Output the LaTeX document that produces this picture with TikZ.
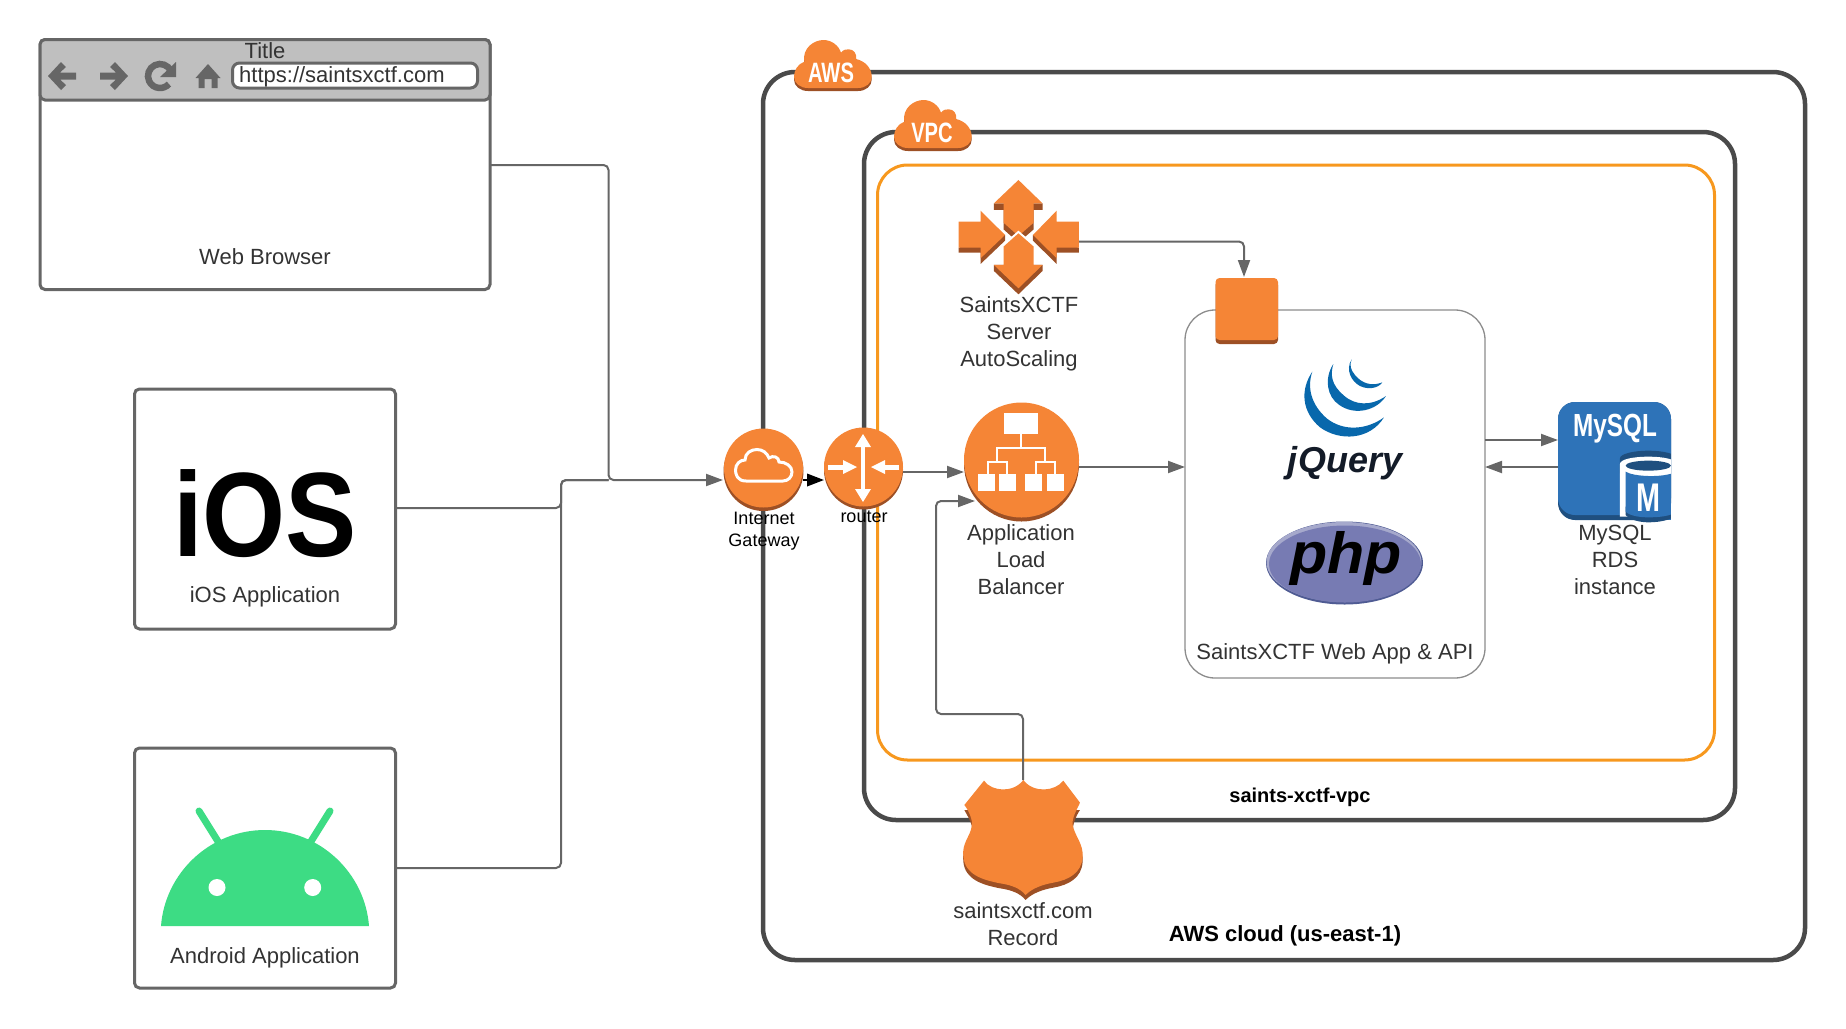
\documentclass[tikz,border=0pt]{standalone}
\usepackage{fontspec}
\usepackage{graphicx}
\setmainfont{Liberation Sans}
\usetikzlibrary{arrows.meta}
\definecolor{awsor}{HTML}{F58536}
\definecolor{awssh}{HTML}{9D5025}
\definecolor{frame}{HTML}{4A4A4A}
\definecolor{edge}{HTML}{666666}
\definecolor{txt}{HTML}{333333}
\definecolor{vpcor}{HTML}{F7981E}
\definecolor{rdsb}{HTML}{2E73B8}
\definecolor{rdsd}{HTML}{1F4F7F}
\definecolor{droid}{HTML}{3DDC84}
\definecolor{jqb}{HTML}{0868AC}
\definecolor{jqd}{HTML}{131B28}
\definecolor{phpb}{HTML}{777BB3}
\definecolor{phpd}{HTML}{4F5B93}
\definecolor{phpl}{HTML}{A6A9CC}
\newcommand{\cloudshape}{(10.3,21.7) .. controls (8,8) and (20,0) .. (29.5,0) .. controls (38,0) and (45,6) .. (47,12.7) .. controls (49,9.5) and (52,9.3) .. (54.8,9.3) .. controls (60,9.3) and (63,14) .. (62,19) .. controls (71,21) and (77.7,28) .. (77.7,36.7) .. controls (77.7,43) and (72,48) .. (64,48) -- (14,48) .. controls (6,48) and (0,43) .. (0,36.7) .. controls (0,30) and (4,24) .. (10.3,21.7) -- cycle}
\tikzset{
  x=1pt,y=-1pt,
  lbl/.style={font=\fontsize{22}{26.8}\selectfont,text=txt,align=center,inner sep=0pt},
  small/.style={font=\fontsize{18}{22}\selectfont,text=black,align=center,inner sep=0pt},
  bold/.style={font=\fontsize{22}{26.5}\selectfont\bfseries,text=black,inner sep=0pt},
  appbox/.style={draw=edge,line width=3pt,rounded corners=5pt,inner sep=0pt,fill=white},
  container/.style={draw=frame,line width=4.5pt,rounded corners=32pt,inner sep=0pt},
  conn/.style={draw=edge,line width=2pt,rounded corners=5pt,-{Triangle[length=17pt,width=12pt]}},
  plain/.style={draw=edge,line width=2pt,rounded corners=5pt},
  whiteln/.style={draw=white,line width=2.8pt},
}
\begin{document}
\begin{tikzpicture}
\useasboundingbox (0,0) rectangle (1846,1028);
% containers
\node[container,minimum width=1042pt,minimum height=888pt] (aws) at (1284,516) {};
\node[container,minimum width=871pt,minimum height=688pt] (vpc) at (1299.5,476) {};
\node[draw=vpcor,line width=3pt,rounded corners=30pt,inner sep=0pt,minimum width=837pt,minimum height=595pt] (sub) at (1296,462.5) {};
\node[bold,font=\fontsize{20}{24}\selectfont\bfseries] (vpclabel) at (1300,797) {saints-xctf-vpc};
\node[bold] (awslabel) at (1285,936) {AWS cloud (us-east-1)};
% clouds
\begin{scope}[shift={(794,40)}]
\fill[awssh,yshift=-3pt] \cloudshape;
\fill[awsor] \cloudshape;
\node[text=white,inner sep=0pt,font=\fontsize{28}{30}\selectfont\bfseries] (awstag) at (37,33) {\scalebox{.72}[1]{AWS}};
\end{scope}
\begin{scope}[shift={(894,100)}]
\fill[awssh,yshift=-3pt] \cloudshape;
\fill[awsor] \cloudshape;
\node[text=white,inner sep=0pt,font=\fontsize{28}{30}\selectfont\bfseries] (vpctag) at (38,33) {\scalebox{.72}[1]{VPC}};
\end{scope}
% app boxes
\node[appbox,minimum width=450pt,minimum height=250pt] (browser) at (265,164.5) {};
\node[appbox,minimum width=261pt,minimum height=240pt] (ios) at (265,509) {};
\node[appbox,minimum width=261pt,minimum height=240pt] (android) at (265,868) {};
% browser bar
\draw[edge,fill=black!25,line width=3pt,rounded corners=5pt] (40,39.5) rectangle (490,100);
\node[appbox,line width=3pt,rounded corners=7pt,minimum width=245pt,minimum height=25pt] (url) at (355,75.5) {};
\node[lbl,anchor=west] (urltext) at (239,76.5) {https://saintsxctf.com};
\node[lbl] (title) at (265,51) {Title};
\node[lbl] (web) at (265,257) {Web Browser};
\fill[edge] (48,76) -- (61,62) -- (66,67) -- (60,72.5) -- (76,72.5) -- (76,79.5) -- (60,79.5) -- (66,85) -- (61,90) -- cycle;
\fill[edge] (128,76) -- (115,62) -- (110,67) -- (116,72.5) -- (100,72.5) -- (100,79.5) -- (116,79.5) -- (110,85) -- (115,90) -- cycle;
\draw[edge,line width=6.5pt] (160,76) ++(-25:12) arc (-25:-318:12);
\fill[edge] (176,62) -- (176,77) -- (160,77) -- cycle;
\fill[edge] (208,64) -- (220.5,78) -- (217.5,78) -- (217.5,88) -- (211.5,88) -- (211.5,79) -- (204.5,79) -- (204.5,88) -- (198.5,88) -- (198.5,78) -- (195.5,78) -- cycle;
% iOS
\node[inner sep=0pt,anchor=base,text=black,font=\fontsize{120}{120}\selectfont\bfseries] (ioslogo) at (265,556) {\scalebox{.89}[1]{iOS}};
\node[lbl] (iostext) at (265,597) {iOS Application};
% android
\fill[droid] (161,926) .. controls (165,873) and (210,830) .. (265,830) .. controls (320,830) and (365,873) .. (369,926) -- cycle;
\draw[droid,line width=7pt,line cap=round] (199,811) -- (219,843);
\draw[droid,line width=7pt,line cap=round] (330,811) -- (310,843);
\fill[white] (217,887.5) circle (8.5);
\fill[white] (312.7,887.5) circle (8.5);
\node[lbl] (androidtext) at (265,957.5) {Android Application};
% ports
\coordinate (igwin) at (723,480);
\coordinate (igwout) at (803,480);
\coordinate (rtin) at (824,480);
\coordinate (rtout) at (903,472);
\coordinate (albin) at (964,472);
\coordinate (albin2) at (975,501);
\coordinate (albout) at (1079,467);
\coordinate (appin) at (1185,467);
\coordinate (appout) at (1485,440);
\coordinate (appback) at (1485,467);
\coordinate (rdsin) at (1558,440);
\coordinate (rdsout) at (1558,467);
\coordinate (browserout) at (490,165);
\coordinate (iosout) at (395,508);
\coordinate (androidout) at (395,868);
\coordinate (asout) at (1079,241.5);
\coordinate (instin) at (1244,277);
\coordinate (r53out) at (1023,780);
% app region
\node[draw=edge!75,line width=1.3pt,rounded corners=30pt,inner sep=0pt,minimum width=300pt,minimum height=368pt] (app) at (1335,494) {};
\node[lbl] (apptext) at (1335,654) {SaintsXCTF Web App \& API};
% connectors
\draw[conn] (browserout) -| (608.5,480) -- (igwin);
\draw[plain] (iosout) -| (561,480) -- (608.5,480);
\draw[plain] (androidout) -| (561,480) -- (608.5,480);
\draw[conn,draw=black,-{Triangle[length=17pt,width=12.5pt]}] (igwout) -- (rtin);
\draw[conn] (rtout) -- (albin);
\draw[conn] (albout) -- (appin);
\draw[conn] (appout) -- (rdsin);
\draw[conn] (rdsout) -- (appback);
\draw[conn] (asout) -| (instin);
\draw[conn] (r53out) |- (936,714) |- (albin2);
% instance square
\fill[awssh,rounded corners=4pt] (1215.5,281) rectangle (1278,344);
\fill[awsor,rounded corners=4pt] (1215.5,278) rectangle (1278,340);
\node[inner sep=0pt,minimum size=1pt] (inst) at (1246,310) {};
% autoscaling
\begin{scope}[shift={(700,20)},x=0.3827pt,y=-0.3333pt]
\fill[awssh] (768,550) -- (768,570) -- (793,570) -- (793,628) -- (832,668) -- (872,628) -- (872,570) -- (895,570) -- (895,550) -- cycle;
\fill[awsor] (832,480) -- (895,550) -- (872,550) -- (872,608) -- (832,648) -- (793,608) -- (793,550) -- (768,550) -- cycle;
\draw[white,line width=4pt] (790,682) -- (832,640) -- (875,682);
\fill[awssh] (768,735) -- (768,753) -- (832,823) -- (895,753) -- (895,735) -- cycle;
\fill[awsor] (832,640) -- (872,680) -- (872,735) -- (895,735) -- (832,805) -- (768,735) -- (793,735) -- (793,680) -- cycle;
\fill[awssh] (676,683) -- (676,698) -- (733,698) -- (733,732) -- (797,662) -- (797,645) -- cycle;
\fill[awsor] (676,605) -- (733,605) -- (733,572) -- (797,645) -- (733,715) -- (733,683) -- (676,683) -- cycle;
\fill[awssh] (990,683) -- (990,698) -- (932,698) -- (932,732) -- (870,662) -- (870,645) -- cycle;
\fill[awsor] (990,605) -- (932,605) -- (932,572) -- (870,645) -- (932,715) -- (932,683) -- (990,683) -- cycle;
\end{scope}
\node[lbl] (astext) at (1019,334) {SaintsXCTF\\Server\\AutoScaling};
% IGW
\fill[awssh] (763.5,471) circle (40);
\fill[awsor] (763.5,468) circle (39.5);
\node[inner sep=0pt,minimum size=79pt,circle] (igw) at (763.5,468) {};
\draw[white,line width=3pt] (746,481) .. controls (737,481) and (735.5,474) .. (735.5,470) .. controls (735.5,464) and (740,460) .. (745,460) .. controls (745,453) and (751,449.5) .. (757,449.5) .. controls (763,449.5) and (767,453) .. (769,458) .. controls (773,455) and (779,457) .. (779,462) .. controls (786,462) and (792,466) .. (792,472) .. controls (792,477) and (788,481) .. (783,481) -- cycle;
\node[small] (igwtext) at (764,531.5) {Internet\\Gateway};
% router
\fill[awssh] (863.5,470) circle (39.5);
\fill[awsor] (863.5,467) circle (39.5);
\node[inner sep=0pt,minimum size=78pt,circle] (router) at (863.5,467) {};
\draw[white,line width=4.5pt] (863,443) -- (863,493);
\fill[white] (863,434) -- (871,447) -- (855,447) -- cycle;
\fill[white] (863,502) -- (871,489) -- (855,489) -- cycle;
\draw[white,line width=5pt] (828,467) -- (848,467);
\fill[white] (857,467) -- (843,460) -- (843,474) -- cycle;
\draw[white,line width=5pt] (899,467) -- (880,467);
\fill[white] (871,467) -- (885,460) -- (885,474) -- cycle;
\node[small] (routertext) at (864,517) {router};
% ALB
\fill[awssh] (1021.5,464) circle (57.5);
\fill[awsor] (1021.5,460) circle (57.5);
\node[inner sep=0pt,minimum size=115pt,circle] (alb) at (1021.5,460) {};
\fill[white] (1004,413) rectangle (1038,434);
\fill[white] (977.7,474) rectangle (994.7,491);
\fill[white] (999,474) rectangle (1016,491);
\fill[white] (1025.3,474) rectangle (1042.3,491);
\fill[white] (1047,474) rectangle (1064,491);
\draw[whiteln] (1021,434) -- (1021,448);
\draw[whiteln] (997,462) -- (997,448) -- (1045,448) -- (1045,462);
\draw[whiteln] (988,474) -- (988,462) -- (1007,462) -- (1007,474);
\draw[whiteln] (1036,474) -- (1036,462) -- (1055,462) -- (1055,474);
\node[lbl] (albtext) at (1021,559.5) {Application\\Load\\Balancer};
% jQuery
\begin{scope}[shift={(1180,340)},x=0.3333pt,y=-0.3333pt]
\fill[jqb] (397,95) .. controls (360,150) and (365,215) .. (420,262) .. controls (480,305) and (570,300) .. (612,232) .. controls (560,270) and (490,275) .. (440,235) .. controls (395,195) and (380,145) .. (397,95) -- cycle;
\fill[jqb] (460,72) .. controls (432,115) and (440,170) .. (478,195) .. controls (525,228) and (590,212) .. (618,168) .. controls (575,198) and (525,198) .. (490,165) .. controls (455,135) and (450,105) .. (460,72) -- cycle;
\fill[jqb] (515,58) .. controls (495,90) and (515,125) .. (540,138) .. controls (565,150) and (595,145) .. (607,127) .. controls (575,140) and (545,130) .. (525,105) .. controls (512,90) and (508,75) .. (515,58) -- cycle;
\end{scope}
\node[inner sep=0pt,anchor=base,text=jqd,font=\fontsize{36}{36}\selectfont\bfseries\itshape] (jq) at (1345,472) {jQuery};
% php
\fill[phpd] (1344.5,563) ellipse (78.5 and 41.5);
\fill[phpl] (1344,562) ellipse (77.5 and 40);
\fill[phpb] (1345,564) ellipse (76 and 38.5);
\node[inner sep=0pt,anchor=base,text=black,font=\fontsize{58}{58}\selectfont\bfseries\itshape] (php) at (1346,573) {\scalebox{1.05}[1]{php}};
% RDS
\fill[rdsd,rounded corners=17pt] (1558,402) rectangle (1671,520);
\fill[rdsb,rounded corners=17pt] (1558,402) rectangle (1671,515);
\begin{scope}[shift={(1180,340)},x=0.3333pt,y=-0.3333pt]
\clip (1133,187) rectangle (1473,560);
\fill[rdsb] (1400,440) rectangle (1473,540);
\fill[rdsd] (1320,355) .. controls (1320,342) and (1360,332) .. (1405,332) .. controls (1450,332) and (1490,342) .. (1490,355) -- (1490,400) -- (1320,400) -- cycle;
\fill[white] (1320,372) .. controls (1320,358) and (1360,350) .. (1405,350) .. controls (1450,350) and (1490,358) .. (1490,372) -- (1490,530) -- (1320,530) -- cycle;
\fill[rdsd] (1405,377) ellipse (68 and 15);
\fill[rdsd] (1337,500) -- (1337,525) .. controls (1350,540) and (1380,547) .. (1405,547) .. controls (1440,547) and (1473,540) .. (1490,525) -- (1490,500) -- cycle;
\fill[rdsb] (1337,395) .. controls (1360,410) and (1450,415) .. (1490,395) -- (1490,515) .. controls (1473,528) and (1440,532) .. (1405,532) .. controls (1380,532) and (1350,528) .. (1337,515) -- cycle;
\end{scope}
\node[inner sep=0pt,text=white,font=\fontsize{32}{32}\selectfont\bfseries] (rdstag) at (1615,429) {\scalebox{.76}[1]{MySQL}};
\node[inner sep=0pt,text=white,font=\fontsize{40}{40}\selectfont\bfseries] (rdsm) at (1648,498) {\scalebox{.72}[1]{M}};
\node[lbl] (rdstext) at (1615,560) {MySQL\\RDS\\instance};
% Route 53
\begin{scope}[shift={(920,700)},x=0.3333pt,y=-0.3333pt]
\fill[awssh] (133,330) .. controls (150,360) and (160,380) .. (155,395) .. controls (150,425) and (125,445) .. (130,485) .. controls (135,540) and (190,555) .. (240,565) .. controls (275,570) and (300,580) .. (317,600) .. controls (335,580) and (370,568) .. (400,563) .. controls (445,555) and (485,535) .. (488,485) .. controls (490,445) and (465,425) .. (460,395) .. controls (455,375) and (470,345) .. (480,330) -- cycle;
\fill[awsor] (192,242) .. controls (215,275) and (280,280) .. (310,240) .. controls (340,280) and (405,275) .. (430,242) -- (480,308) .. controls (470,330) and (455,355) .. (458,375) .. controls (465,410) and (490,430) .. (488,470) .. controls (485,520) and (445,540) .. (400,548) .. controls (370,553) and (335,565) .. (317,585) .. controls (300,565) and (275,555) .. (240,550) .. controls (190,540) and (135,525) .. (130,470) .. controls (125,430) and (150,410) .. (155,380) .. controls (160,360) and (145,330) .. (133,315) -- cycle;
\end{scope}
\node[inner sep=0pt,minimum size=1pt] (r53) at (1023,840) {};
\node[lbl] (r53text) at (1023,924) {saintsxctf.com\\Record};
\end{tikzpicture}
\end{document}
